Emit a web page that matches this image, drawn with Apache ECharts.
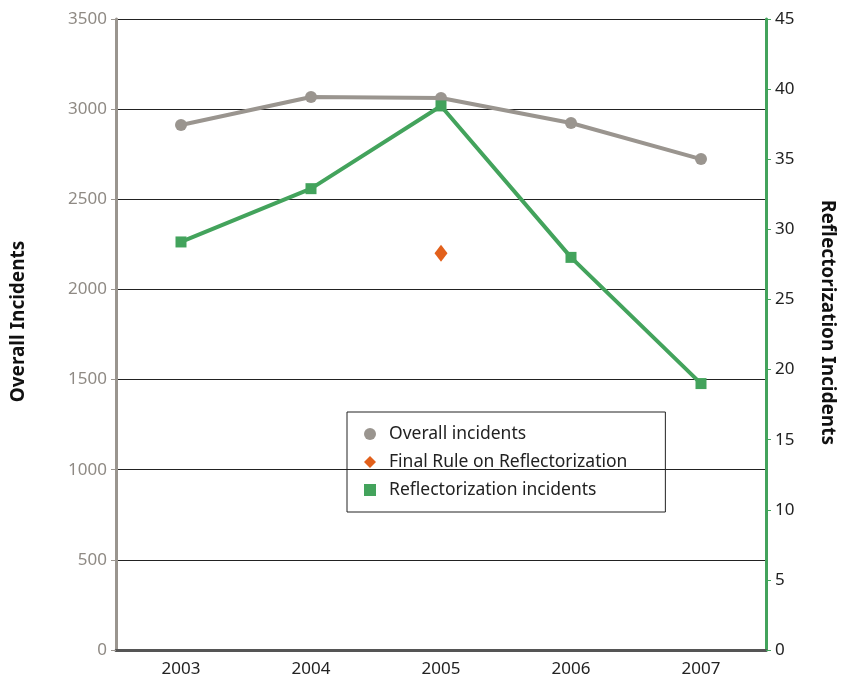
<!DOCTYPE html>
<html>
<head>
<meta charset="utf-8">
<script src="https://cdn.jsdelivr.net/npm/echarts@6/dist/echarts.min.js"></script>
<style>
    html,body{margin:0;padding:0;background:#fff;}
    #main{width:845px;height:682px;}
</style>
</head>
<body>
<div id="main"></div>
<script>
//数据
var years=['2003','2004','2005','2006','2007'];
var overall=[2912,3067,3062,2923,2723];
var reflect=[29.1,32.9,38.8,28,19];
var finalRule=['-','-',2200,'-','-'];

var gray='#9a958f';
var green='#43a35c';
var orange='#e2601b';
var font='Noto Sans';

var myChart=echarts.init(document.getElementById('main'));
option={
    animation:false,
    textStyle:{fontFamily:font},
    grid:{
        left:116,
        right:74,
        top:19,
        bottom:32
    },
    legend:{
        orient:'vertical',
        left:347,
        top:412,
        padding:[13,38,13,17],
        itemGap:10,
        itemWidth:12,
        itemHeight:12,
        borderColor:'#222',
        borderWidth:1,
        textStyle:{fontSize:17.5,color:'#222',fontFamily:font,padding:[0,0,0,8]},
        data:[
            {name:'Overall incidents',icon:'circle'},
            {name:'Final Rule on Reflectorization',icon:'diamond'},
            {name:'Reflectorization incidents',icon:'rect'}
        ]
    },
    xAxis:{
        type:'category',
        data:years,
        boundaryGap:true,
        axisLine:{lineStyle:{color:'#555',width:3}},
        axisTick:{show:false},
        axisLabel:{color:'#222',fontSize:17,margin:11}
    },
    yAxis:[
        {
            type:'value',
            min:0,
            max:3500,
            interval:500,
            name:'Overall Incidents',
            nameLocation:'middle',
            nameRotate:90,
            nameGap:88,
            nameTextStyle:{fontSize:19,fontWeight:'bold',color:'#111',padding:[0,0,0,26]},
            axisLine:{show:true,lineStyle:{color:gray,width:3}},
            axisTick:{show:true,length:5,lineStyle:{color:gray}},
            axisLabel:{color:'#8f8a84',fontSize:17,margin:9,formatter:function (v) {return String(v);}},
            splitLine:{lineStyle:{color:'#222',width:1}}
        },
        {
            type:'value',
            min:0,
            max:45,
            interval:5,
            position:'right',
            name:'Reflectorization Incidents',
            nameLocation:'middle',
            nameRotate:-90,
            nameGap:52,
            nameTextStyle:{fontSize:19,fontWeight:'bold',color:'#111',padding:[0,24,0,0]},
            axisLine:{show:true,lineStyle:{color:green,width:3}},
            axisTick:{show:true,length:5,lineStyle:{color:green}},
            axisLabel:{color:'#222',fontSize:17,margin:9},
            splitLine:{show:false}
        }
    ],
    series:[
        {
            name:'Overall incidents',
            type:'line',
            yAxisIndex:0,
            data:overall,
            symbol:'circle',
            symbolSize:12,
            lineStyle:{color:gray,width:4},
            itemStyle:{color:gray}
        },
        {
            name:'Final Rule on Reflectorization',
            type:'scatter',
            yAxisIndex:0,
            data:finalRule,
            symbol:'diamond',
            symbolSize:[13,17],
            itemStyle:{color:orange,opacity:1}
        },
        {
            name:'Reflectorization incidents',
            type:'line',
            yAxisIndex:1,
            data:reflect,
            symbol:'rect',
            symbolSize:11,
            lineStyle:{color:green,width:4},
            itemStyle:{color:green}
        }
    ]
};
myChart.setOption(option);
</script>
</body>
</html>
